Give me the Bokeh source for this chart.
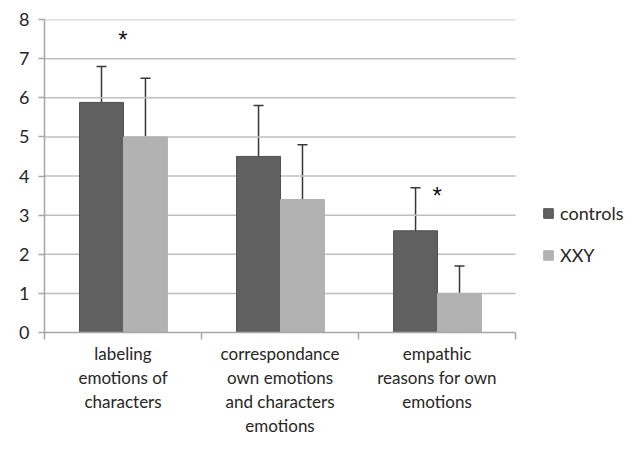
from bokeh.plotting import figure
from bokeh.models import (Range1d, FixedTicker, ColumnDataSource, Whisker, TeeHead,
                          Legend, LegendItem)
from bokeh.core.properties import value
from bokeh.embed import file_html
from bokeh.resources import INLINE

categories = ["labeling\nemotions of\ncharacters",
              "correspondance\nown emotions\nand characters\nemotions",
              "empathic\nreasons for own\nemotions"]
series = ["controls", "XXY"]
controls = [5.88, 4.5, 2.6]
controls_err = [0.92, 1.3, 1.1]
xxy = [5.0, 3.4, 1.0]
xxy_err = [1.5, 1.4, 0.7]
sig_index = [0, 2]
sig_y = [7.5, 3.5]
y_ticks = [0, 1, 2, 3, 4, 5, 6, 7, 8]

FONT = "Lato"
colors = ["#606060", "#b2b2b2"]
outlines = ["#505050", "#b2b2b2"]
bar_w = 0.28
offsets = [-0.137, 0.143]
n = len(categories)
x_end = n + 0.70   # extra room on the right of the frame for the legend

p = figure(width=625, height=438, output_backend="svg", toolbar_location=None,
           x_range=Range1d(0, x_end), y_range=Range1d(0, 8))
p.min_border_left = 44
p.min_border_top = 19
p.min_border_right = 0
p.min_border_bottom = 106
p.outline_line_color = None
p.background_fill_color = "white"
p.border_fill_color = "white"

# horizontal gridlines, only across the category area
p.segment(x0=[0] * (len(y_ticks) - 1), x1=[n] * (len(y_ticks) - 1),
          y0=y_ticks[1:], y1=y_ticks[1:], line_color="#bfbfbf", line_width=1.5)

renderers = []
for k, (vals, errs) in enumerate([(controls, controls_err), (xxy, xxy_err)]):
    xs = [i + 0.5 + offsets[k] for i in range(len(vals))]
    src = ColumnDataSource(dict(x=xs, top=vals, upper=[v + e for v, e in zip(vals, errs)]))
    r = p.vbar(x="x", top="top", bottom=0, width=bar_w, source=src,
               fill_color=colors[k], line_color=outlines[k], line_width=1)
    renderers.append(r)
    w = Whisker(source=src, base="x", lower="top", upper="upper", dimension="height",
                line_color="#383838", line_width=1.5,
                upper_head=TeeHead(size=10, line_color="#383838", line_width=1.5),
                lower_head=None)
    p.add_layout(w)

p.text(x=[i + 0.5 for i in sig_index], y=sig_y, text=["*"] * len(sig_index),
       text_font=value("Liberation Sans"), text_font_size="24px", text_color="#111111",
       text_align="center", text_baseline="middle")

# axes
p.xgrid.visible = False
p.ygrid.visible = False

p.yaxis.ticker = FixedTicker(ticks=y_ticks)
p.yaxis.axis_line_color = "#a6a6a6"
p.yaxis.axis_line_width = 1.5
p.yaxis.major_tick_line_color = "#a6a6a6"
p.yaxis.major_tick_line_width = 1.5
p.yaxis.major_tick_out = 6
p.yaxis.major_tick_in = 0
p.yaxis.minor_tick_line_color = None
p.yaxis.major_label_text_font = FONT
p.yaxis.major_label_text_font_size = "18px"
p.yaxis.major_label_text_color = "#262626"
p.yaxis.major_label_standoff = 9

p.xaxis.bounds = (0, n)
p.xaxis.ticker = FixedTicker(ticks=[i + 0.5 for i in range(n)],
                             minor_ticks=list(range(n + 1)))
p.xaxis.major_label_overrides = {i + 0.5: c for i, c in enumerate(categories)}
p.xaxis.axis_line_color = "#a6a6a6"
p.xaxis.axis_line_width = 1.5
p.xaxis.major_tick_line_color = None
p.xaxis.major_tick_out = 0
p.xaxis.major_tick_in = 0
p.xaxis.minor_tick_line_color = "#a6a6a6"
p.xaxis.minor_tick_line_width = 1.5
p.xaxis.minor_tick_out = 7
p.xaxis.minor_tick_in = 0
p.xaxis.major_label_text_font = FONT
p.xaxis.major_label_text_font_size = "17px"
p.xaxis.major_label_text_color = "#262626"
p.xaxis.major_label_standoff = 3
p.xaxis.major_label_text_line_height = 1.15

legend = Legend(items=[LegendItem(label=s, renderers=[r]) for s, r in zip(series, renderers)],
                location=(498, 66), padding=0, margin=0, spacing=20,
                glyph_width=12, glyph_height=12, label_standoff=6,
                label_text_font=FONT, label_text_font_size="18px",
                label_text_color="#262626",
                border_line_color=None, background_fill_alpha=0)
p.add_layout(legend, "center")

open("out.html", "w").write(file_html(p, INLINE))
